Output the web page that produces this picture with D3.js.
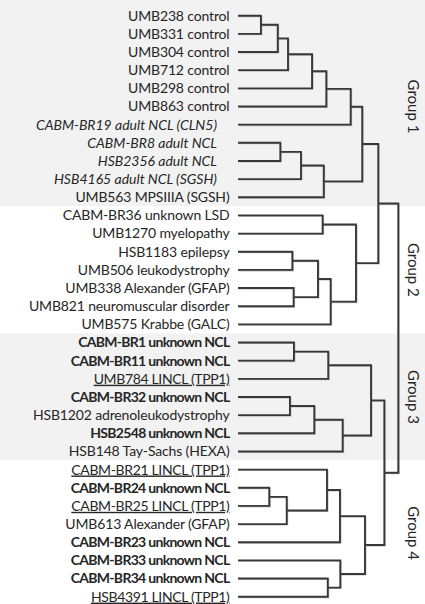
<!DOCTYPE html>
<html>
<head>
<meta charset="utf-8">
<script src="https://cdn.jsdelivr.net/npm/d3@7"></script>
<style>
  html, body { margin: 0; padding: 0; background: #fff; }
  svg { display: block; }
  text { font-family: Lato, "Open Sans", sans-serif; }
</style>
</head>
<body>
<svg id="chart" width="425" height="604"></svg>
<script>
// ---- data ----
const leafLabels = [
  "UMB238 control", "UMB331 control", "UMB304 control", "UMB712 control",
  "UMB298 control", "UMB863 control", "CABM-BR19 adult NCL (CLN5)",
  "CABM-BR8 adult NCL", "HSB2356 adult NCL", "HSB4165 adult NCL (SGSH)",
  "UMB563 MPSIIIA (SGSH)",
  "CABM-BR36 unknown LSD", "UMB1270 myelopathy", "HSB1183 epilepsy",
  "UMB506 leukodystrophy", "UMB338 Alexander (GFAP)", "UMB821 neuromuscular disorder",
  "UMB575 Krabbe (GALC)",
  "CABM-BR1 unknown NCL", "CABM-BR11 unknown NCL", "UMB784 LINCL (TPP1)",
  "CABM-BR32 unknown NCL", "HSB1202 adrenoleukodystrophy", "HSB2548 unknown NCL",
  "HSB148 Tay-Sachs (HEXA)",
  "CABM-BR21 LINCL (TPP1)", "CABM-BR24 unknown NCL", "CABM-BR25 LINCL (TPP1)",
  "UMB613 Alexander (GFAP)", "CABM-BR23 unknown NCL", "CABM-BR33 unknown NCL",
  "CABM-BR34 unknown NCL", "HSB4391 LINCL (TPP1)"
];
// n = normal, i = italic, b = bold, u = underline
const leafStyles = [
  "n","n","n","n","n","n","i","i","i","i","n",
  "n","n","n","n","n","n","n",
  "b","b","u","b","n","b","n",
  "u","b","u","n","b","b","b","u"
];
// linkage: [childA, childB, height]; ids >= 33 refer to earlier merges
const linkage = [
  [0, 1, 0.143], [33, 2, 0.248], [34, 3, 0.312], [35, 4, 0.462],
  [36, 5, 0.551], [37, 6, 0.703], [7, 8, 0.264], [39, 9, 0.393],
  [40, 10, 0.535], [38, 41, 0.775], [11, 12, 0.528], [13, 14, 0.339],
  [15, 16, 0.347], [44, 45, 0.499], [46, 17, 0.578], [43, 47, 0.736],
  [42, 48, 0.875], [18, 19, 0.349], [50, 20, 0.563], [21, 22, 0.324],
  [52, 23, 0.476], [53, 24, 0.653], [51, 54, 0.830], [26, 27, 0.195],
  [56, 28, 0.304], [25, 57, 0.555], [58, 29, 0.636], [31, 32, 0.560],
  [30, 60, 0.638], [59, 61, 0.792], [55, 62, 0.913], [49, 63, 1.0]
];
const groupNames = ["Group 1", "Group 2", "Group 3", "Group 4"];
const groupSizes = [11, 7, 7, 8];

// ---- layout ----
const W = 425, H = 604;
const svg = d3.select("#chart");
const n = leafLabels.length;

const y = d3.scalePoint().domain(d3.range(n)).range([15.7, 596.7]);
const x = d3.scaleLinear().domain([0, 1]).range([238, 398.3]);

// nodes
const nodes = [];
for (let i = 0; i < n; i++) nodes.push({ h: 0, y: y(i) });
linkage.forEach(([a, b, h]) => {
  nodes.push({ a, b, h, y: (nodes[a].y + nodes[b].y) / 2 });
});

// group bands
let start = 0;
const groups = groupNames.map((g, gi) => {
  const first = start, last = start + groupSizes[gi] - 1;
  start += groupSizes[gi];
  return { name: g, first, last };
});
const step = y.step();
groups.forEach((g, gi) => {
  g.top = gi === 0 ? 0 : y(g.first) - step / 2;
  g.bottom = gi === groups.length - 1 ? H : y(g.last) + step / 2;
  g.mid = (y(g.first) + y(g.last)) / 2;
});

svg.append("g").selectAll("rect")
  .data(groups)
  .join("rect")
  .attr("x", 0).attr("width", W)
  .attr("y", d => d.top)
  .attr("height", d => d.bottom - d.top)
  .attr("fill", (d, i) => i % 2 === 0 ? "#f2f2f2" : "#ffffff");

// links
const internal = nodes.slice(n);
const linkPath = d => {
  const A = nodes[d.a], B = nodes[d.b];
  return `M${x(A.h)},${A.y}H${x(d.h)}V${B.y}H${x(B.h)}`;
};
svg.append("g")
  .attr("fill", "none")
  .attr("stroke", "#bdbdbd")
  .attr("stroke-width", 1.2)
  .attr("transform", "translate(0.9,0.9)")
  .selectAll("path").data(internal).join("path")
  .attr("d", linkPath);
svg.append("g")
  .attr("fill", "none")
  .attr("stroke", "#383838")
  .attr("stroke-width", 1.9)
  .selectAll("path").data(internal).join("path")
  .attr("d", linkPath);

// leaf labels
const spacing = { n: -0.15, i: 0, b: -0.7, u: -0.35 };
svg.append("g")
  .selectAll("text")
  .data(leafLabels)
  .join("text")
  .attr("x", (d, i) => leafStyles[i] === "i" ? 217 : 229.5)
  .attr("y", (d, i) => y(i))
  .attr("dy", "0.35em")
  .attr("text-anchor", "end")
  .attr("font-size", 14)
  .attr("fill", "#262626")
  .attr("letter-spacing", (d, i) => spacing[leafStyles[i]])
  .attr("font-style", (d, i) => leafStyles[i] === "i" ? "italic" : "normal")
  .attr("font-weight", (d, i) => leafStyles[i] === "b" ? "bold" : "normal")
  .attr("text-decoration", (d, i) => leafStyles[i] === "u" ? "underline" : "none")
  .text(d => d);

// group labels
svg.append("g")
  .selectAll("text")
  .data(groups)
  .join("text")
  .attr("transform", d => `translate(413,${d.mid}) rotate(90)`)
  .attr("text-anchor", "middle")
  .attr("dy", "0.35em")
  .attr("font-size", 15)
  .attr("fill", "#262626")
  .text(d => d.name);
</script>
</body>
</html>
